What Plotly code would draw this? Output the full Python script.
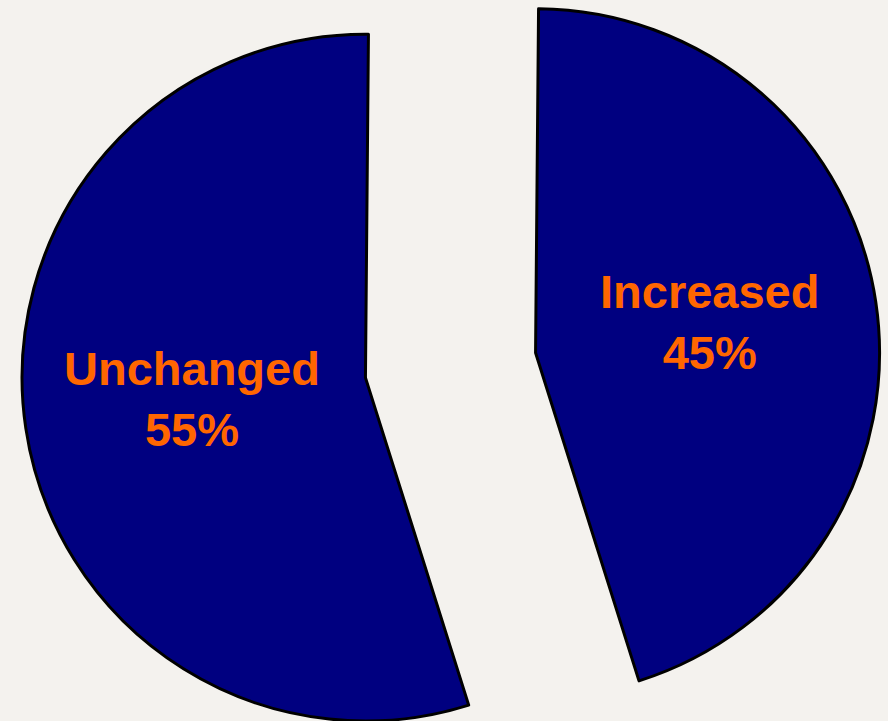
import math
import plotly.graph_objects as go

# Survey result shares (percent)
categories = ["Increased", "Unchanged"]
values = [45, 55]

# Drawing settings
W, H = 888, 721
BG = "#F4F2EE"
SLICE_COLOR = "#000080"
TEXT_COLOR = "#FF6600"
RADIUS = 344          # slice radius, px
CENTER = (450.5, 365.5)  # centre of the un-exploded pie, px
PULL = 86             # how far each slice is pulled out, px
ROTATION = 0.5        # start angle, degrees clockwise from 12 o'clock

total = sum(values)
fig = go.Figure()


def clamp(v):
    return min(1.0, max(0.0, v))


cum = 0.0
for i, (name, val) in enumerate(zip(categories, values)):
    start = ROTATION + 360.0 * cum / total
    mid = math.radians(start + 180.0 * val / total)
    cum += val
    # slice apex after exploding it along its bisector
    cx = CENTER[0] + PULL * math.sin(mid)
    cy = CENTER[1] - PULL * math.cos(mid)

    colors = ["rgba(0,0,0,0)"] * len(values)
    widths = [0] * len(values)
    colors[i] = SLICE_COLOR
    widths[i] = 3

    fig.add_trace(go.Pie(
        labels=categories,
        values=values,
        sort=False,
        direction="clockwise",
        rotation=ROTATION,
        marker=dict(colors=colors, line=dict(color="black", width=widths)),
        textinfo="none",
        hoverinfo="skip",
        showlegend=False,
        domain=dict(
            x=[clamp((cx - RADIUS) / W), clamp((cx + RADIUS) / W)],
            y=[clamp(1 - (cy + RADIUS) / H), clamp(1 - (cy - RADIUS) / H)],
        ),
    ))

    # label placed about halfway out along the slice bisector
    tx = cx + 0.51 * RADIUS * math.sin(mid)
    ty = cy - 0.51 * RADIUS * math.cos(mid)
    fig.add_annotation(
        x=tx / W, y=1 - ty / H, xref="paper", yref="paper",
        xanchor="center", yanchor="middle", showarrow=False, yshift=5,
        text=f"{name}<br>{val}%",
        font=dict(family="Liberation Sans, Arial, sans-serif", size=47,
                  color=TEXT_COLOR, weight="bold"),
    )

fig.update_layout(
    width=W, height=H,
    margin=dict(l=0, r=0, t=0, b=0),
    paper_bgcolor=BG,
    plot_bgcolor=BG,
)

fig.write_html("out.html")
